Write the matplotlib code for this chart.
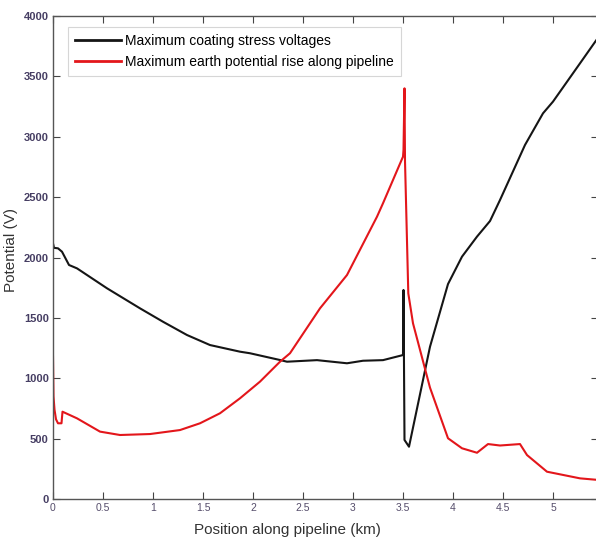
#!/usr/bin/env python3
"""Coating stress voltage and earth potential rise along a pipeline."""
import matplotlib
matplotlib.use("Agg")
import matplotlib.pyplot as plt

plt.rcParams['font.family'] = ['Liberation Sans', 'DejaVu Sans']

# Maximum coating stress voltages (black)
stress_km = [0, 0.01, 0.05, 0.09, 0.16, 0.24, 0.54, 0.87, 1.10, 1.34, 1.57,
             1.87, 1.97, 2.27, 2.34, 2.64, 2.94, 3.10, 3.30, 3.49, 3.50,
             3.505, 3.515, 3.56, 3.77, 3.95, 4.09, 4.24, 4.37, 4.47, 4.72,
             4.90, 5.00, 5.27, 5.45]
stress_v = [2117, 2080, 2076, 2048, 1938, 1910, 1745, 1579, 1468, 1358, 1275,
            1220, 1207, 1151, 1137, 1150, 1124, 1145, 1150, 1190, 1193,
            1731, 489, 433, 1261, 1780, 2007, 2173, 2302, 2476, 2932,
            3194, 3291, 3608, 3820]

# Maximum earth potential rise along pipeline (red)
epr_km = [0, 0.005, 0.015, 0.03, 0.05, 0.085, 0.095, 0.24, 0.47, 0.67, 0.97,
          1.27, 1.47, 1.67, 1.87, 2.07, 2.27, 2.37, 2.67, 2.94, 3.24, 3.30,
          3.50, 3.505, 3.515, 3.52, 3.553, 3.60, 3.77, 3.95, 4.09, 4.24,
          4.35, 4.47, 4.67, 4.74, 4.94, 5.27, 5.45]
epr_v = [1178, 850, 740, 660, 627, 627, 723, 668, 558, 530, 538,
         571, 627, 710, 834, 972, 1137, 1207, 1579, 1855, 2338, 2449,
         2835, 2890, 3401, 2800, 1703, 1455, 922, 503, 420, 383,
         455, 443, 455, 364, 226, 171, 158]

x_ticks = [0, 0.5, 1, 1.5, 2, 2.5, 3, 3.5, 4, 4.5, 5]
x_ticklabels = ['0', '0.5', '1', '1.5', '2', '2.5', '3', '3.5', '4', '4.5', '5']
y_ticks = [0, 500, 1000, 1500, 2000, 2500, 3000, 3500, 4000]

fig = plt.figure(figsize=(5.96, 5.39), dpi=100)
ax = fig.add_axes([53 / 596, 40 / 539, 545 / 596, 483 / 539])

ax.plot(stress_km, stress_v, color='#151515', lw=1.5,
        label='Maximum coating stress voltages')
ax.plot(epr_km, epr_v, color='#e3161b', lw=1.5,
        label='Maximum earth potential rise along pipeline')

ax.set_xlim(0, 5.45)
ax.set_ylim(0, 4000)
ax.set_xticks(x_ticks)
ax.set_xticklabels(x_ticklabels)
ax.set_yticks(y_ticks)

ax.tick_params(direction='in', length=5, width=0.8, color='#444444',
               top=True, right=True)
ax.tick_params(axis='x', labelsize=7.5, labelcolor='#554d6b', pad=3)
ax.tick_params(axis='y', labelsize=8, labelcolor='#463e63', pad=3)
for lbl in ax.get_yticklabels():
    lbl.set_fontweight('bold')
for spine in ax.spines.values():
    spine.set_color('#555555')
    spine.set_linewidth(1.0)

ax.set_xlabel('Position along pipeline (km)', fontsize=11, color='#333333')
ax.xaxis.set_label_coords((287 - 53) / 545, -0.049)
ax.set_ylabel('Potential (V)', fontsize=11, color='#333333')
ax.yaxis.set_label_coords(-0.064, 0.515)

leg = ax.legend(loc='upper left', bbox_to_anchor=(0.027, 0.978), fontsize=10,
                frameon=True, fancybox=False, handlelength=3.3,
                handletextpad=0.25, borderpad=0.55, labelspacing=0.45,
                borderaxespad=0)
leg.get_frame().set_edgecolor('#cccccc')
leg.get_frame().set_linewidth(0.8)
for line in leg.get_lines():
    line.set_linewidth(2.0)

fig.savefig('out.png', dpi=100)
